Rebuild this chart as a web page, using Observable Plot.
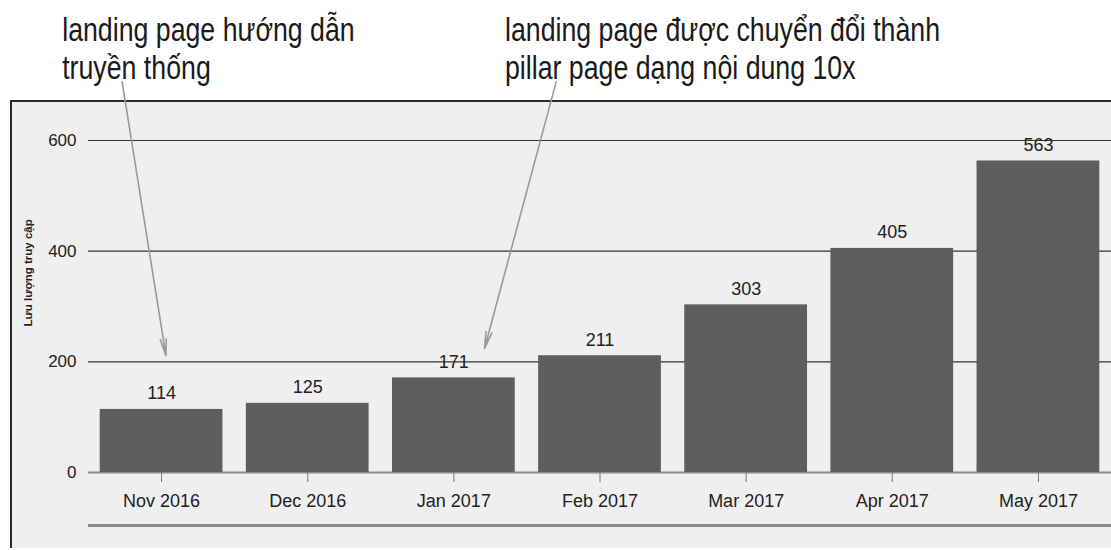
<!DOCTYPE html>
<html>
<head>
<meta charset="utf-8">
<script src="https://cdn.jsdelivr.net/npm/d3@7"></script>
<script src="https://cdn.jsdelivr.net/npm/@observablehq/plot@0.6"></script>
<style>
  html, body { margin: 0; padding: 0; background: #fff; overflow: hidden; }
  #wrap { position: relative; width: 1111px; height: 550px; }
  #panel { position: absolute; left: 10px; top: 100px; width: 1110px; height: 446px;
           background: #efefef; border-top: 2px solid #2a2a2a; border-left: 2px solid #2a2a2a; }
  #chart { position: absolute; left: 0; top: 0; }
</style>
</head>
<body>
<div id="wrap"><div id="panel"></div><div id="chart"></div></div>
<script>
// Data
const months = ["Nov 2016", "Dec 2016", "Jan 2017", "Feb 2017", "Mar 2017", "Apr 2017", "May 2017"];
const visits = [114, 125, 171, 211, 303, 405, 563];
const yTicks = [0, 200, 400, 600];
const yLabel = "Lưu lượng truy cập";

// Annotations (in data units: x = month index, y = visits)
const noteTexts = ["landing page hướng dẫn\ntruyền thống", "landing page được chuyển đổi thành\npillar page dạng nội dung 10x"];
const noteX = [-0.68, 2.35];
const noteY = [830, 830];
const arrowX1 = [-0.27, 2.70];
const arrowY1 = [706, 706];
const arrowX2 = [0.03, 2.21];
const arrowY2 = [211, 224];

const bars = months.map((m, i) => ({i, month: m, value: visits[i]}));
const notes = noteTexts.map((t, k) => ({text: t, x: noteX[k], y: noteY[k]}));
const arrows = arrowX1.map((x, k) => ({x1: x, y1: arrowY1[k], x2: arrowX2[k], y2: arrowY2[k]}));
const half = 0.42;

const chart = Plot.plot({
  width: 1111,
  height: 550,
  marginLeft: 88,
  marginRight: 0,
  marginTop: 140,
  marginBottom: 78,
  style: {fontFamily: "'Liberation Sans', Arial, sans-serif", fontSize: "16px", color: "#222", background: "transparent", overflow: "visible"},
  x: {domain: [-0.5, 6.5], axis: null},
  y: {domain: [0, 600], axis: null},
  marks: [
    Plot.ruleY([200, 400, 600], {stroke: "#333", strokeWidth: 1.2}),
    Plot.ruleY([0], {stroke: "#8a8a8a", strokeWidth: 2}),
    Plot.ruleY([-96], {stroke: "#8a8a8a", strokeWidth: 3, clip: false}),
    Plot.rectY(bars, {x1: d => d.i - half, x2: d => d.i + half, y: "value", fill: "#5e5e5e"}),
    Plot.text(bars, {x: "i", y: "value", text: d => String(d.value), dy: -16, fontSize: 18, fill: "#222"}),
    Plot.axisX({ticks: months.map((m, i) => i), tickFormat: i => months[i], tickSize: 10, tickPadding: 12, fontSize: 18, stroke: "#777", color: "#222"}),
    Plot.axisY({ticks: yTicks, tickSize: 0, tickPadding: 12, fontSize: 17, color: "#222"}),
    Plot.text([yLabel], {frameAnchor: "left", rotate: -90, dx: -60, dy: 20, fontSize: 11.5, fontWeight: "bold", fill: "#222"}),
    Plot.arrow(arrows, {x1: "x1", y1: "y1", x2: "x2", y2: "y2", stroke: "#9a9a9a", strokeWidth: 1.6, headLength: 16, headAngle: 20, clip: false}),
    Plot.text(notes, {x: "x", y: "y", text: "text", textAnchor: "start", lineAnchor: "top", lineHeight: 1.17,
      fontFamily: "'Liberation Sans', Arial, sans-serif", fontSize: 33, fill: "#1a1a1a", clip: false})
  ]
});
document.getElementById("chart").appendChild(chart);

// Condense the annotation lines horizontally (the original uses a narrow typeface)
const squeeze = 0.81;
chart.querySelectorAll("text").forEach(el => {
  if (!noteTexts.some(t => t.startsWith(el.textContent.slice(0, 12)))) return;
  if (!el.textContent.startsWith("landing page")) return;
  const t = el.getAttribute("transform") || "";
  el.setAttribute("transform", (t + ` scale(${squeeze},1)`).trim());
});
</script>
</body>
</html>
